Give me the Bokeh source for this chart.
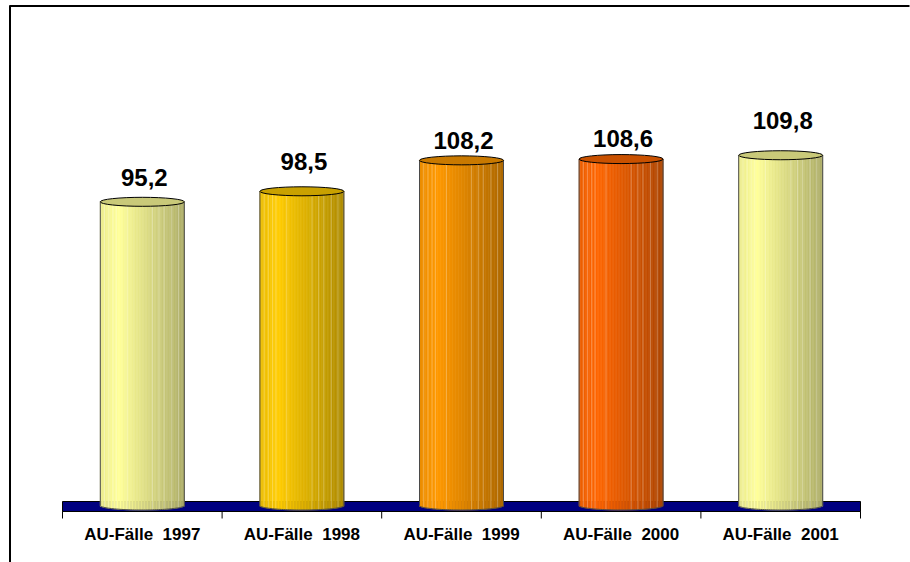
import numpy as np
from bokeh.plotting import figure
from bokeh.models import Range1d, ColumnDataSource
from bokeh.core.properties import value
from bokeh.embed import file_html
from bokeh.resources import INLINE

# --- data -----------------------------------------------------------------
categories = ["AU-Fälle  1997", "AU-Fälle  1998", "AU-Fälle  1999",
              "AU-Fälle  2000", "AU-Fälle  2001"]
cases = [95.2, 98.5, 108.2, 108.6, 109.8]

# --- styling ----------------------------------------------------------------
face_colors = ["#FFFF99", "#FFCC00", "#FF9900", "#FF6600", "#FFFF99"]
label_raise_px = [24, 30, 20, 21, 35]     # gap between cylinder top and its label
FONT = value("Liberation Sans")

W, H = 910, 562
LEFT_PX = 62          # left end of the floor
CAT_PX = 159.6        # width of one category slot
BASE_PX = 505         # screen row of value 0
PX_PER_UNIT = 3.19    # vertical scale
RADIUS_PX = 42        # cylinder half width
ELL_PX = 4.5          # half height of the cylinder ellipses


def X(px):
    return (px - LEFT_PX) / CAT_PX


def Y(py):
    return (BASE_PX - py) / PX_PER_UNIT


p = figure(width=W, height=H, output_backend="svg", toolbar_location=None,
           x_axis_type=None, y_axis_type=None, min_border=0,
           x_range=Range1d(X(0), X(W)), y_range=Range1d(Y(H), Y(0)))
p.grid.visible = False
p.outline_line_color = None
p.background_fill_color = "white"
p.border_fill_color = "white"

n = len(categories)
centers = [i + 0.5 for i in range(n)]

# floor slab
p.quad(left=[0], right=[n], bottom=[Y(511)], top=[Y(501)],
       fill_color="#000080", line_color="black", line_width=1)


def shade(hex_color, k):
    r, g, b = (int(hex_color[j:j + 2], 16) for j in (1, 3, 5))
    return "#%02x%02x%02x" % tuple(int(max(0, min(255, round(c * k)))) for c in (r, g, b))


def profile(t):
    # brightness across the cylinder: slightly dim left rim, highlight, dark right side
    if t < 0.22:
        return 0.92 + 0.08 * (t / 0.22)
    return 1.0 - 0.32 * ((t - 0.22) / 0.78)


r = RADIUS_PX / CAT_PX
hh = ELL_PX / PX_PER_UNIT
N = 56
edges = np.linspace(-r, r, N + 1)
stripe_t = [0.05, 0.1, 0.15, 0.19, 0.32, 0.62, 0.7, 0.76, 0.85, 0.93]

strips = dict(left=[], right=[], bottom=[], top=[], color=[])
st = dict(x0=[], y0=[], x1=[], y1=[])
sides = dict(x0=[], y0=[], x1=[], y1=[])
arcs_x, arcs_y = [], []
for c, v, col in zip(centers, cases, face_colors):
    for k in range(N):
        mid = 0.5 * (edges[k] + edges[k + 1])
        t = (mid + r) / (2 * r)
        depth = hh * np.sqrt(max(0.0, 1 - (mid / r) ** 2))
        strips["left"].append(c + edges[k])
        strips["right"].append(c + edges[k + 1])
        strips["bottom"].append(-depth)
        strips["top"].append(v)
        strips["color"].append(shade(col, profile(t)))
    for t in stripe_t:
        off = -r + 2 * r * t
        depth = hh * np.sqrt(max(0.0, 1 - (off / r) ** 2))
        st["x0"].append(c + off)
        st["x1"].append(c + off)
        st["y0"].append(-depth)
        st["y1"].append(v)
    for s in (-r, r):
        sides["x0"].append(c + s)
        sides["x1"].append(c + s)
        sides["y0"].append(0)
        sides["y1"].append(v)
    th = np.linspace(np.pi, 2 * np.pi, 60)
    arcs_x.append(list(c + r * np.cos(th)))
    arcs_y.append(list(hh * np.sin(th)))

p.quad(source=ColumnDataSource(strips), left="left", right="right",
       bottom="bottom", top="top", fill_color="color", line_color="color",
       line_width=0.6)
p.segment(source=ColumnDataSource(st), x0="x0", y0="y0", x1="x1", y1="y1",
          line_color="white", line_alpha=0.28, line_width=1)
p.segment(source=ColumnDataSource(sides), x0="x0", y0="y0", x1="x1", y1="y1",
          line_color="#4a4a4a", line_width=1)
p.multi_line(xs=arcs_x, ys=arcs_y, line_color="#4a4a4a", line_width=1)

# cylinder lids
p.ellipse(x=centers, y=cases, width=2 * r, height=2 * ELL_PX, height_units="screen",
          fill_color=[shade(cl, 0.79) for cl in face_colors],
          line_color="black", line_width=1)

# value labels
labels = [("%.1f" % v).replace(".", ",") for v in cases]
p.text(x=[c + 2 / CAT_PX for c in centers],
       y=[v + rp / PX_PER_UNIT for v, rp in zip(cases, label_raise_px)],
       text=labels, text_font=FONT, text_font_style="bold",
       text_font_size="24px", text_align="center", text_baseline="alphabetic",
       text_color="black")

# category axis: line, boundary ticks and labels
bounds = list(range(n + 1))
p.segment(x0=[0], y0=[Y(511)], x1=[n], y1=[Y(511)], line_color="black", line_width=1)
p.segment(x0=bounds, y0=[Y(511)] * len(bounds), x1=bounds, y1=[Y(518)] * len(bounds),
          line_color="black", line_width=1)
shown = [c.replace("  ", "\u00a0 ") for c in categories]
p.text(x=centers, y=[Y(533.5)] * n, text=shown, text_font=FONT,
       text_font_style="bold", text_font_size="17px", text_align="center",
       text_baseline="alphabetic", text_color="black")

# chart frame (top and left edges)
p.segment(x0=[X(9), X(9.5)], y0=[Y(5.5), Y(5)], x1=[X(909), X(9.5)], y1=[Y(5.5), Y(H + 5)],
          line_color="black", line_width=2)

open("out.html", "w").write(file_html(p, INLINE))
